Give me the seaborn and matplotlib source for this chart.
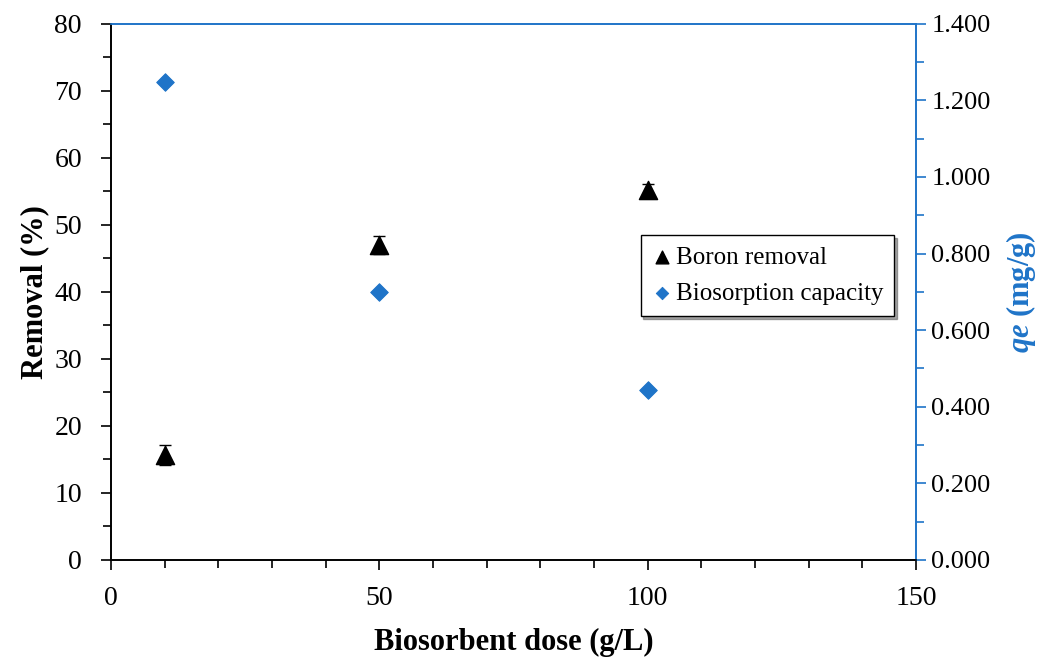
import numpy as np
import pandas as pd
import matplotlib.pyplot as plt
import seaborn as sns
from matplotlib.ticker import MultipleLocator, FormatStrFormatter

# -------------------- #
# Data
# -------------------- #
dose = [10, 50, 100]                      # g/L
removal = [15.6, 47.0, 55.2]              # %
removal_err = [1.5, 1.4, 0.9]
qe = [1.248, 0.700, 0.444]                # mg/g

blue = "#1f74c8"

sns.set_theme(style="white")
plt.rcParams['font.family'] = ['Liberation Serif', 'DejaVu Serif']
plt.rcParams['text.color'] = 'black'
plt.rcParams['mathtext.fontset'] = 'custom'
plt.rcParams['mathtext.it'] = 'Liberation Serif:italic:bold'

df = pd.DataFrame({"dose": dose, "removal": removal, "err": removal_err, "qe": qe})

fig = plt.figure(figsize=(10.48, 6.61), dpi=100)
ax = fig.add_axes([0.106, 0.153, 0.768, 0.811])

ax.errorbar(df["dose"], df["removal"], yerr=df["err"], fmt="none",
            ecolor="black", elinewidth=1, capsize=4, zorder=2)
sns.scatterplot(data=df, x="dose", y="removal", marker="^", s=170,
                color="black", edgecolor="black", ax=ax, zorder=3,
                label="Boron removal", legend=False)

ax2 = ax.twinx()
sns.scatterplot(data=df, x="dose", y="qe", marker="D", s=80,
                color=blue, edgecolor=blue, ax=ax2, zorder=3,
                label="Biosorption capacity", legend=False)

ax.set_xlim(0, 150)
ax.set_ylim(0, 80)
ax2.set_ylim(0, 1.4)

ax.xaxis.set_major_locator(MultipleLocator(50))
ax.xaxis.set_minor_locator(MultipleLocator(10))
ax.yaxis.set_major_locator(MultipleLocator(10))
ax.yaxis.set_minor_locator(MultipleLocator(5))
ax2.yaxis.set_major_locator(MultipleLocator(0.2))
ax2.yaxis.set_minor_locator(MultipleLocator(0.1))
ax2.yaxis.set_major_formatter(FormatStrFormatter("%.3f"))

ax.tick_params(axis="both", which="both", direction="out", colors="black",
               labelsize=20, left=True, bottom=True)
ax.tick_params(which="major", length=7, width=1.2)
ax.tick_params(which="minor", length=6, width=1.2)
ax.tick_params(axis="x", pad=12)
ax.tick_params(axis="y", pad=14)
ax2.tick_params(axis="y", which="both", direction="out", color=blue,
                labelcolor="black", labelsize=19, right=True, pad=4)
ax2.tick_params(which="major", length=7, width=1.2)
ax2.tick_params(which="minor", length=6, width=1.2)

for a in (ax, ax2):
    for s in a.spines.values():
        s.set_linewidth(1.2)
    a.spines["left"].set_color("black")
    a.spines["bottom"].set_color("black")
    a.spines["right"].set_color(blue)
    a.spines["top"].set_color(blue)

ax.set_xlabel("Biosorbent dose (g/L)", fontsize=22, fontweight="bold",
              color="black", labelpad=12)
ax.set_ylabel("Removal (%)", fontsize=22, fontweight="bold",
              color="black", labelpad=4)
ax2.set_ylabel(r"$\mathit{qe}$ (mg/g)", fontsize=22, fontweight="bold",
               color=blue, labelpad=10)

h1, l1 = ax.get_legend_handles_labels()
h2, l2 = ax2.get_legend_handles_labels()
leg = ax2.legend(h1 + h2, l1 + l2, loc="upper left", bbox_to_anchor=(0.658, 0.606),
                 borderaxespad=0, fontsize=18, frameon=True, fancybox=False,
                 shadow=True, handletextpad=0.15, borderpad=0.45, labelspacing=0.55,
                 handlelength=0.8, markerscale=0.7)
leg.get_frame().set_edgecolor("black")
leg.get_frame().set_linewidth(1.0)
for t in leg.get_texts():
    t.set_color("black")

fig.savefig("out.png", dpi=100)
